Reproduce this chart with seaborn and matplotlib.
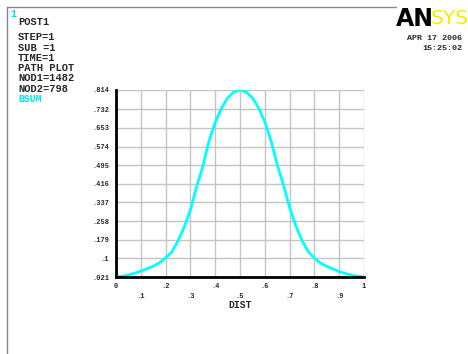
import matplotlib
matplotlib.use("Agg")
import matplotlib.pyplot as plt
import seaborn as sns
import pandas as pd
from matplotlib.lines import Line2D

# ---- data ----
dist = [0.0, 0.025, 0.05, 0.075, 0.1, 0.125, 0.15, 0.175, 0.2, 0.225, 0.25,
        0.275, 0.3, 0.325, 0.35, 0.375, 0.4, 0.425, 0.45, 0.475, 0.5,
        0.525, 0.55, 0.575, 0.6, 0.625, 0.65, 0.675, 0.7, 0.725, 0.75,
        0.775, 0.8, 0.825, 0.85, 0.875, 0.9, 0.925, 0.95, 0.975, 1.0]
bsum = [0.021, 0.024, 0.030, 0.037, 0.046, 0.056, 0.067, 0.081, 0.102, 0.127, 0.174,
        0.233, 0.305, 0.404, 0.490, 0.597, 0.676, 0.736, 0.780, 0.806, 0.814,
        0.806, 0.781, 0.738, 0.679, 0.600, 0.497, 0.412, 0.316, 0.238, 0.176,
        0.129, 0.101, 0.080, 0.066, 0.055, 0.044, 0.036, 0.029, 0.024, 0.021]
ytick_vals = [0.021, 0.1, 0.179, 0.258, 0.337, 0.416, 0.495, 0.574, 0.653, 0.732, 0.814]
ytick_labels = [".021", ".1", ".179", ".258", ".337", ".416", ".495", ".574", ".653", ".732", ".814"]
xtick_vals = [0, 0.1, 0.2, 0.3, 0.4, 0.5, 0.6, 0.7, 0.8, 0.9, 1.0]
xtick_labels = ["0", "\n.1", ".2", "\n.3", ".4", "\n.5", ".6", "\n.7", ".8", "\n.9", "1"]
info_lines = ["STEP=1", "SUB =1", "TIME=1", "PATH PLOT", "NOD1=1482", "NOD2=798"]

sns.set_style("white")
plt.rcParams["font.family"] = ["Liberation Mono", "DejaVu Sans Mono"]

W, H = 468, 354
fig = plt.figure(figsize=(W / 100, H / 100), dpi=100)
fig.patch.set_facecolor("white")

ax = fig.add_axes([116 / W, 1 - 277 / H, (364 - 116) / W, (277 - 90) / H])
df = pd.DataFrame({"DIST": dist, "BSUM": bsum})
sns.lineplot(data=df, x="DIST", y="BSUM", ax=ax, color="#00ffff", linewidth=2.0)

ax.set_xlim(0, 1)
ax.set_ylim(0.021, 0.814)
ax.set_xticks(xtick_vals)
ax.set_xticklabels(xtick_labels, fontsize=5, fontweight="bold", linespacing=1.6)
ax.set_yticks(ytick_vals)
ax.set_yticklabels(ytick_labels, fontsize=5, fontweight="bold")
ax.grid(True, color="#c4c4c4", linewidth=1.0)
ax.set_axisbelow(True)
for s in ["top", "right"]:
    ax.spines[s].set_visible(False)
for s in ["left", "bottom"]:
    ax.spines[s].set_color("black")
    ax.spines[s].set_linewidth(2.0)
    ax.spines[s].set_zorder(5)
ax.tick_params(axis="both", which="major", length=3, width=0.8, color="#555555",
               direction="out", pad=2)
ax.tick_params(axis="x", pad=1)
ax.set_xlabel("DIST", fontsize=7, fontweight="bold", labelpad=0)
ax.set_ylabel("")

# frame lines
fig.add_artist(Line2D([7 / W, 7 / W], [0, 1 - 7 / H], color="#888888", lw=1))
fig.add_artist(Line2D([7 / W, 396 / W], [1 - 7 / H, 1 - 7 / H], color="#888888", lw=1))

# header texts
fig.text(10 / W, 1 - 14 / H, "1", color="#00e0e0", fontsize=7, fontweight="bold", va="center")
fig.text(18 / W, 1 - 22 / H, "POST1", fontsize=7.5, fontweight="bold", va="center")
ys = [37, 48, 58, 68, 78, 89]
for t, yy in zip(info_lines, ys):
    fig.text(18 / W, 1 - yy / H, t, fontsize=7.5, fontweight="bold", va="center")
fig.text(18 / W, 1 - 99 / H, "BSUM", color="#00e8e8", fontsize=7, fontweight="bold", va="center")

fig.text(396 / W, 1 - 19 / H, "AN", fontsize=17, fontweight="bold", family="DejaVu Sans",
         color="black", va="center", ha="left")
fig.text(431 / W, 1 - 19 / H, "SYS", fontsize=14.5, family="DejaVu Sans",
         color="#f5ee00", va="center", ha="left")
fig.text(462 / W, 1 - 39 / H, "APR 17 2006", fontsize=6, fontweight="bold", ha="right", va="center")
fig.text(462 / W, 1 - 48 / H, "15:25:02", fontsize=6, fontweight="bold", ha="right", va="center")

fig.savefig("out.png", dpi=100)
